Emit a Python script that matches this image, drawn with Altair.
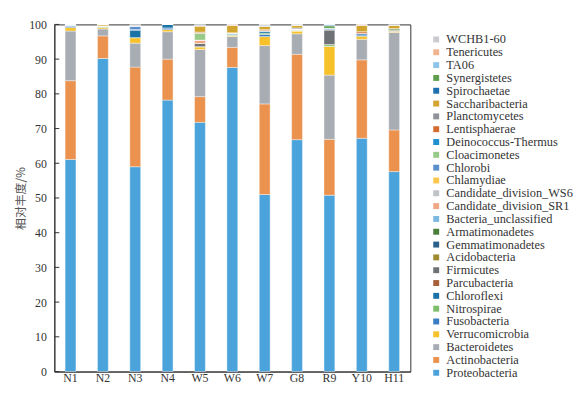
import altair as alt
import pandas as pd

samples = ["N1", "N2", "N3", "N4", "W5", "W6", "W7", "G8", "R9", "Y10", "H11"]

# stacking order, bottom -> top
taxa = [
    "Proteobacteria", "Actinobacteria", "Bacteroidetes", "Verrucomicrobia",
    "Fusobacteria", "Nitrospirae", "Chloroflexi", "Parcubacteria", "Firmicutes",
    "Acidobacteria", "Gemmatimonadetes", "Armatimonadetes", "Bacteria_unclassified",
    "Candidate_division_SR1", "Candidate_division_WS6", "Chlamydiae", "Chlorobi",
    "Cloacimonetes", "Deinococcus-Thermus", "Lentisphaerae", "Planctomycetes",
    "Saccharibacteria", "Spirochaetae", "Synergistetes", "TA06", "Tenericutes",
    "WCHB1-60",
]

colors = [
    "#4ba3db", "#eb924f", "#a8adb4", "#f7c12a",
    "#3a7dc4", "#7dbe6d", "#1a73a6", "#a8603a", "#6e7275",
    "#a08a2e", "#2a5f8a", "#4a7f3a", "#7db8e0",
    "#f0a783", "#bfc2c6", "#f9c74f", "#5b8fcc",
    "#98cb8a", "#1e8fd0", "#d36c2e", "#8f9296",
    "#d2a52f", "#1d6fae", "#5e9e4d", "#8fc4ea", "#f2b391",
    "#c9cbce",
]

proteobacteria = [61.1, 90.2, 59.0, 78.2, 71.8, 87.6, 51.0, 66.8, 50.8, 67.2, 57.6]
actinobacteria = [22.7, 6.5, 28.7, 11.8, 7.4, 5.8, 26.1, 24.6, 16.1, 22.6, 12.0]
bacteroidetes = [14.3, 2.0, 6.9, 7.9, 13.6, 3.1, 16.8, 5.9, 18.5, 5.9, 28.1]
verrucomicrobia = [1.0, 0.4, 1.6, 0.6, 0.8, 0.3, 2.6, 0.8, 8.3, 0.9, 0.3]
fusobacteria = [0.4, 0, 0, 0.5, 0, 0, 0.6, 0, 0, 0.4, 0]
nitrospirae = [0, 0.3, 0, 0, 0, 0.2, 0.4, 0.3, 0.5, 0, 0]
chloroflexi = [0.3, 0, 2.3, 1.0, 0, 0.3, 0.7, 0, 0, 0.4, 0]
parcubacteria = [0, 0, 0, 0, 0, 0, 0, 0, 0, 0, 0]
firmicutes = [0, 0, 0, 0, 0.9, 0, 0, 0, 4.3, 0, 0]
acidobacteria = [0, 0.2, 0, 0, 0, 0.3, 0, 0.3, 0, 0, 0.3]
gemmatimonadetes = [0, 0, 0, 0, 0, 0, 0, 0, 0, 0, 0]
armatimonadetes = [0, 0, 0, 0, 0, 0, 0, 0, 0, 0, 0.5]
bacteria_unclassified = [0, 0, 0, 0, 0, 0, 0, 0, 0, 0, 0]
candidate_sr1 = [0, 0, 0, 0, 1.0, 0, 0, 0, 0, 0, 0]
candidate_ws6 = [0, 0, 0, 0, 0, 0, 0, 0, 0, 0, 0]
chlamydiae = [0, 0, 0, 0, 0, 0, 0, 0, 0, 0, 0]
chlorobi = [0, 0, 1.1, 0, 0, 0, 0, 0, 0.4, 0, 0]
cloacimonetes = [0, 0, 0, 0, 2.0, 0, 0, 0, 0, 0, 0]
deinococcus = [0, 0, 0, 0, 0, 0, 0, 0, 0, 0, 0]
lentisphaerae = [0, 0, 0, 0, 0.3, 0, 0.3, 0, 0, 0.5, 0]
planctomycetes = [0, 0, 0, 0, 0, 0, 0, 0.3, 0, 0, 0]
saccharibacteria = [0, 0.4, 0, 0, 1.8, 2.1, 1.0, 0.8, 0, 1.8, 0.9]
spirochaetae = [0, 0, 0, 0, 0, 0, 0, 0, 0, 0, 0]
synergistetes = [0, 0, 0, 0, 0, 0, 0, 0, 0.7, 0, 0]
ta06 = [0.2, 0, 0, 0, 0, 0, 0.3, 0, 0.4, 0, 0]
tenericutes = [0, 0, 0, 0, 0, 0.3, 0.2, 0, 0, 0.3, 0]
wchb1_60 = [0, 0, 0.4, 0, 0.4, 0, 0, 0.2, 0, 0, 0.3]

series = [
    proteobacteria, actinobacteria, bacteroidetes, verrucomicrobia,
    fusobacteria, nitrospirae, chloroflexi, parcubacteria, firmicutes,
    acidobacteria, gemmatimonadetes, armatimonadetes, bacteria_unclassified,
    candidate_sr1, candidate_ws6, chlamydiae, chlorobi,
    cloacimonetes, deinococcus, lentisphaerae, planctomycetes,
    saccharibacteria, spirochaetae, synergistetes, ta06, tenericutes,
    wchb1_60,
]

y_ticks = [0, 10, 20, 30, 40, 50, 60, 70, 80, 90, 100]

rows = []
for k, (name, vals) in enumerate(zip(taxa, series)):
    for s, v in zip(samples, vals):
        rows.append({"sample": s, "taxon": name, "value": v, "rank": k})
df = pd.DataFrame(rows)

serif = "Liberation Serif"

y_axis = alt.Axis(title="相对丰度/%", values=y_ticks, ticks=False,
                  grid=False, labelPadding=8, labelFont=serif,
                  labelFontSize=12, labelColor="#333", labelOverlap=False,
                  titleFont="Noto Sans CJK SC", titleFontSize=12,
                  titleFontWeight="normal", titleColor="#555",
                  titlePadding=1, domainColor="#333")
y_scale = alt.Scale(domain=[0, 100], nice=False)

bars = alt.Chart(df).mark_bar(size=11, stroke="white", strokeWidth=0.4).encode(
    x=alt.X("sample:N", sort=samples,
            scale=alt.Scale(paddingInner=0, paddingOuter=0),
            axis=alt.Axis(title=None, labelAngle=0, ticks=False, labelPadding=1,
                          labelFont=serif, labelFontSize=12, labelColor="#333",
                          domainColor="#333")),
    y=alt.Y("value:Q", stack="zero", scale=y_scale, axis=y_axis),
    color=alt.Color("taxon:N",
                    scale=alt.Scale(domain=taxa[::-1], range=colors[::-1]),
                    legend=alt.Legend(title=None, orient="none", legendX=381,
                                      legendY=9, symbolType="square",
                                      symbolSize=36, symbolStrokeWidth=0,
                                      labelFont=serif, labelFontSize=12.5,
                                      labelColor="#333", rowPadding=0,
                                      labelOffset=4, labelLimit=200,
                                      values=taxa[::-1])),
    order=alt.Order("rank:Q", sort="ascending"),
)

tick_df = pd.DataFrame({"value": y_ticks})
ticks = alt.Chart(tick_df).mark_rule(color="#333", strokeWidth=1).encode(
    y=alt.Y("value:Q", scale=y_scale, axis=y_axis), x=alt.value(0), x2=alt.value(5)
)

chart = alt.layer(bars, ticks).properties(
    width=361, height=352,
    autosize=alt.AutoSizeParams(type="none"),
    padding={"left": 47, "top": 14, "right": 167, "bottom": 11},
).configure_view(stroke="#333", strokeWidth=1).configure_axis(domainWidth=1)

chart.save("out.html", embed_options={"renderer": "svg", "actions": False})
